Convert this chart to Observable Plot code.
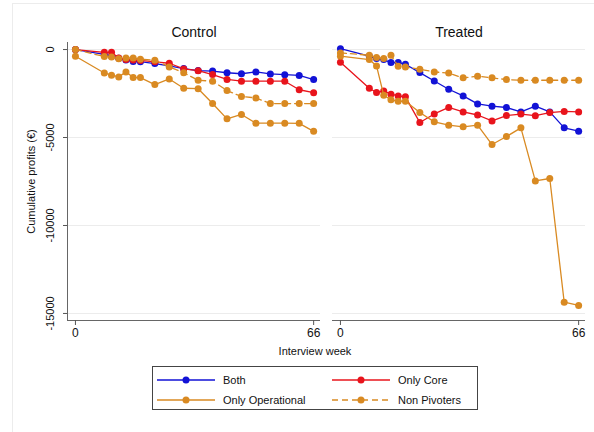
<!DOCTYPE html>
<html><head><meta charset="utf-8">
<script src="https://cdn.jsdelivr.net/npm/d3@7"></script>
<script src="https://cdn.jsdelivr.net/npm/@observablehq/plot@0.6"></script>
<style>
html,body{margin:0;padding:0;background:#fff;overflow:hidden;width:594px;height:432px;}
#wrap{position:relative;width:594px;height:432px;font-family:"Liberation Sans",Arial,sans-serif;color:#111;overflow:hidden;}
#outer{position:absolute;left:12px;top:3px;width:700px;height:600px;border:1px solid #ececec;}
#chart{position:absolute;left:0;top:0;}
#xlab{position:absolute;top:345px;left:215px;width:200px;text-align:center;font-size:11px;}
.legend{position:absolute;left:152px;top:366px;width:326px;height:44px;border:1px solid #444;box-sizing:border-box;}
.item{position:absolute;height:14px;display:flex;align-items:center;font-size:11px;white-space:nowrap;}
</style></head>
<body><div id="wrap"><div id="outer"></div><div id="chart"></div><div id="xlab">Interview week</div></div>
<script>
// ---- data ----
const weeks = [0, 8, 10, 12, 14, 16, 18, 22, 26, 30, 34, 38, 42, 46, 50, 54, 58, 62, 66];
const panels = ["Control", "Treated"];
const groups = ["Both", "Only Core", "Only Operational", "Non Pivoters"];
const colors = ["#1212d6", "#e8141c", "#d98a22", "#d98a22"];
const dashes = [null, null, null, "6,4"];

const controlBoth = [0, -280, -380, -500, -600, -680, -690, -800, -930, -1080, -1195, -1225, -1320, -1375, -1270, -1385, -1430, -1470, -1705];
const controlCore = [0, -160, -160, -480, -560, -600, -620, -700, -780, -1100, -1200, -1420, -1700, -1800, -1800, -1800, -1800, -2285, -2455];
const controlOper = [-380, -1330, -1460, -1555, -1270, -1595, -1595, -1990, -1670, -2200, -2225, -3070, -3940, -3690, -4185, -4185, -4185, -4195, -4650];
const controlNonPiv = [0, -400, -420, -530, -480, -480, -550, -610, -990, -1320, -1745, -1800, -2330, -2670, -2750, -3070, -3070, -3070, -3070];

const treatedBoth = [50, -380, -510, -570, -740, -740, -835, -1310, -1785, -2255, -2635, -3090, -3220, -3295, -3545, -3220, -3545, -4450, -4640];
const treatedCore = [-720, -2200, -2445, -2350, -2540, -2635, -2690, -4150, -3660, -3290, -3545, -3720, -4060, -3750, -3665, -3760, -3580, -3520, -3545];
const treatedOper = [-380, -570, -930, -2600, -2850, -2940, -2940, -3580, -4110, -4300, -4395, -4300, -5400, -4945, -4450, -7465, -7330, -14360, -14545];
const treatedNonPiv = [-190, -325, -455, -510, -325, -950, -990, -1120, -1270, -1340, -1610, -1515, -1610, -1705, -1745, -1745, -1745, -1745, -1745];

const yTicks = [0, -5000, -10000, -15000];
const yTickLabels = ["0", "-5000", "-10000", "-15000"];
const xTicks = [0, 66];

// ---- build table ----
const series = {
  Control: [controlBoth, controlCore, controlOper, controlNonPiv],
  Treated: [treatedBoth, treatedCore, treatedOper, treatedNonPiv]
};
const rows = [];
panels.forEach(p => groups.forEach((g, gi) => series[p][gi].forEach((v, i) => rows.push({panel: p, group: g, week: weeks[i], value: v}))));

const xDomain = [-2.2, 67.9];
const yDomain = [-15400, 400];

const marks = [
  Plot.gridY(yTicks, {stroke: "#ececec", strokeOpacity: 1}),
  Plot.ruleY([yDomain[0]], {stroke: "#666"}),
  Plot.ruleX([{panel: "Control"}], {x: () => xDomain[0], fx: "panel", stroke: "#666"}),
  Plot.axisY(yTicks, {tickSize: 4, tickPadding: 10, tickRotate: -90, textAnchor: "middle", lineAnchor: "bottom", stroke: "#555",
    tickFormat: d => yTickLabels[yTicks.indexOf(d)],
    label: "Cumulative profits (€)", labelAnchor: "center", labelArrow: "none", labelOffset: 40, fill: "#111"}),
  Plot.axisX(xTicks, {tickSize: 5, tickPadding: 3, fontSize: 12, label: null, stroke: "#555", fill: "#111"}),
  Plot.axisFx({anchor: "top", label: null, tickSize: 0, tickPadding: 6, fontSize: 14, fill: "#111"})
];
groups.forEach((g, gi) => {
  const d = rows.filter(r => r.group === g);
  marks.push(Plot.line(d, {x: "week", y: "value", fx: "panel", stroke: colors[gi], strokeWidth: 1.3, strokeDasharray: dashes[gi] || undefined}));
  marks.push(Plot.dot(d, {x: "week", y: "value", fx: "panel", fill: colors[gi], r: 3.5}));
});

const chart = Plot.plot({
  width: 594, height: 345,
  marginLeft: 67, marginRight: 9, marginTop: 42, marginBottom: 25,
  style: {fontFamily: "'Liberation Sans', Arial, sans-serif", fontSize: "11px", background: "transparent", color: "#111"},
  fx: {domain: panels, paddingInner: 0.0453, paddingOuter: 0},
  x: {domain: xDomain, axis: null},
  y: {domain: yDomain, axis: null},
  marks
});
document.getElementById("chart").appendChild(chart);

// ---- legend ----
const leg = d3.select("#wrap").append("div").attr("class", "legend");
groups.forEach((g, i) => {
  const col = i % 2, row = Math.floor(i / 2);
  const it = leg.append("div").attr("class", "item")
    .style("left", (col === 0 ? 4 : 179) + "px")
    .style("top", (row === 0 ? 6 : 26) + "px");
  const s = it.append("svg").attr("width", 58).attr("height", 10).style("margin-right", "8px");
  s.append("line").attr("x1", 0).attr("x2", 58).attr("y1", 5).attr("y2", 5)
    .attr("stroke", colors[i]).attr("stroke-width", 1.3).attr("stroke-dasharray", dashes[i]);
  s.append("circle").attr("cx", 29).attr("cy", 5).attr("r", 3.5).attr("fill", colors[i]);
  it.append("span").text(g);
});
</script>
</body></html>
